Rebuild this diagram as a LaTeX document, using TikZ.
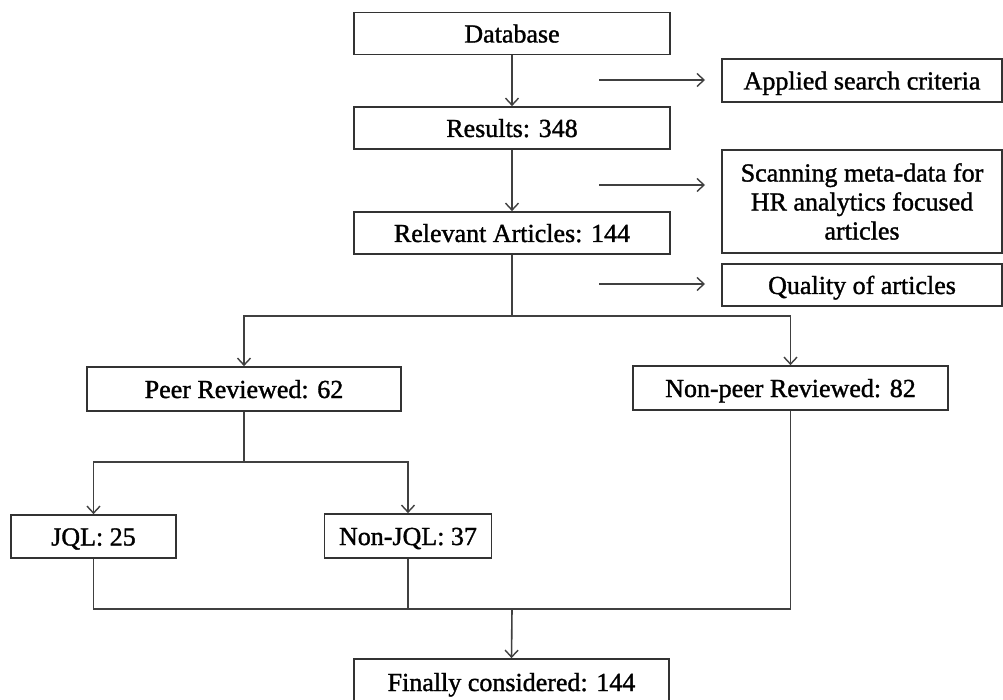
\documentclass[tikz,border=0pt]{standalone}
\usepackage{fontspec}
\setmainfont{Liberation Serif}
\newfontfamily\boxfont{Liberation Serif}[FakeBold=1.3]
\usetikzlibrary{arrows.meta}
\begin{document}
\begin{tikzpicture}[x=1pt,y=-1pt,
  box/.style={draw=black!80, line width=1.7pt, rectangle, inner sep=0pt,
    font=\boxfont\fontsize{26}{29}\selectfont, align=center, text=black},
  one/.style={box, text height=22pt, text depth=4pt},
  conn/.style={draw=black!75, line width=1.6pt},
  arr/.style={conn, -{Straight Barb[length=7pt,width=13pt,line width=1.4pt]}}]
\useasboundingbox (0,0) rectangle (1003,700);
\fill[white] (0,0) rectangle (1003,700);
% main column
\node[one, minimum width=316pt, minimum height=42pt] (db) at (512,33.5) {Database};
\node[one, minimum width=316pt, minimum height=42pt] (res) at (512,128) {Results: 348};
\node[one, minimum width=316pt, minimum height=42pt] (rel) at (512,233) {Relevant Articles: 144};
% side boxes
\node[one, minimum width=280pt, minimum height=43pt] (asc) at (862,80.5) {Applied search criteria};
\node[box, minimum width=280pt, minimum height=103pt] (scan) at (862,201.5) {Scanning meta-data for\\HR analytics focused\\articles};
\node[one, minimum width=280pt, minimum height=42pt] (qual) at (862,285) {Quality of articles};
% branches
\node[one, minimum width=314pt, minimum height=44pt] (peer) at (244,389) {Peer Reviewed: 62};
\node[one, minimum width=315pt, minimum height=44pt] (npeer) at (790.5,388) {Non-peer Reviewed: 82};
\node[one, minimum width=165pt, minimum height=43pt] (jql) at (93.5,536.5) {JQL: 25};
\node[one, minimum width=167pt, minimum height=44pt] (njql) at (408,536) {Non-JQL: 37};
\node[one, minimum width=315pt, minimum height=46pt] (fin) at (511.5,682) {Finally considered: 144};
% side arrow coordinates
\coordinate (a1s) at (599,80);
\coordinate (a1e) at (705,80);
\coordinate (a2s) at (599,185);
\coordinate (a2e) at (705,185);
\coordinate (a3s) at (599,284);
\coordinate (a3e) at (705,284);
\draw[arr] (a1s) -- (a1e);
\draw[arr] (a2s) -- (a2e);
\draw[arr] (a3s) -- (a3e);
% junctions
\coordinate (j1) at (512,316);
\coordinate (j2) at (244,462);
\coordinate (j3) at (512,609);
% connectors
\draw[arr] (db.south) -- (res.north);
\draw[arr] (res.south) -- (rel.north);
\draw[conn] (rel.south) -- (j1);
\draw[arr] (j1) -| (peer.north);
\draw[arr] (j1) -| (npeer.north);
\draw[conn] (peer.south) -- (j2);
\draw[arr] (j2) -| (jql.north);
\draw[arr] (j2) -| (njql.north);
\draw[conn] (jql.south) -- (jql.south |- j3) -- (npeer.south |- j3) -- (npeer.south);
\draw[conn] (njql.south) -- (njql.south |- j3);
\draw[arr] (j3) -- (fin.north);
\end{tikzpicture}
\end{document}
